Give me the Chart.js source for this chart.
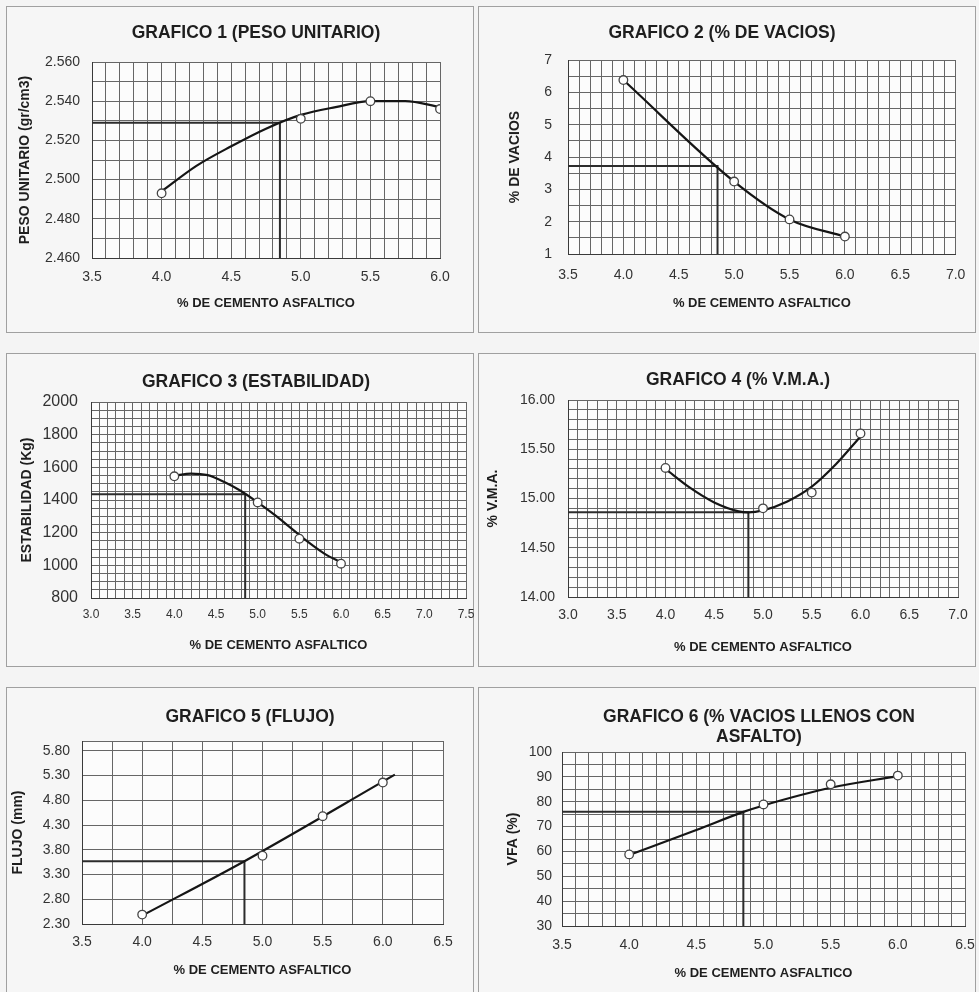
<!DOCTYPE html>
<html>
<head>
<meta charset="utf-8">
<script src="https://cdn.jsdelivr.net/npm/chart.js@4.4.1/dist/chart.umd.min.js"></script>
<style>
html,body{margin:0;padding:0;background:#f4f4f4;}
body{width:979px;height:992px;position:relative;overflow:hidden;}
.panel{position:absolute;border:1px solid #a0a0a0;box-sizing:border-box;background:#f6f6f6;}
canvas{position:absolute;}
</style>
</head>
<body>
<div class="panel" style="left:6px;top:6px;width:468px;height:327px"></div>
<div class="panel" style="left:478px;top:6px;width:498px;height:327px"></div>
<div class="panel" style="left:6px;top:353px;width:468px;height:314px"></div>
<div class="panel" style="left:478px;top:353px;width:498px;height:314px"></div>
<div class="panel" style="left:6px;top:687px;width:468px;height:320px"></div>
<div class="panel" style="left:478px;top:687px;width:498px;height:320px"></div>
<script>
// ---------------- DATA ----------------
const X_CEMENTO = [4.0, 5.0, 5.5, 6.0];
const PESO_UNITARIO = [2.493, 2.531, 2.540, 2.536];
const VACIOS = [6.38, 3.24, 2.07, 1.54];
const ESTABILIDAD = [1545, 1385, 1163, 1010];
const VMA = [15.31, 14.90, 15.06, 15.66];
const FLUJO = [2.49, 3.68, 4.48, 5.16];
const VFA = [58.8, 78.9, 87.0, 90.5];

const CEMENTO_OPTIMO = 4.85;
const OPT_PESO = 2.529;
const OPT_VACIOS = 3.72;
const OPT_ESTAB = 1435;
const OPT_VMA = 14.86;
const OPT_FLUJO = 3.57;
const OPT_VFA = 76;

// trend curves
const CURVA1_X = [4.0, 4.25, 4.5, 4.75, 5.0, 5.25, 5.5, 5.75, 6.0];
const CURVA1_Y = [2.494, 2.507, 2.517, 2.526, 2.533, 2.537, 2.540, 2.540, 2.537];
const CURVA3_X = [4.0, 4.2, 4.4, 4.6, 4.8, 5.0, 5.2, 5.4, 5.6, 5.8, 6.0];
const CURVA3_Y = [1549, 1562, 1552, 1510, 1455, 1385, 1310, 1228, 1145, 1072, 1018];
const CURVA4_X = [4.0, 4.25, 4.5, 4.75, 4.85, 5.0, 5.25, 5.5, 5.75, 6.0];
const CURVA4_Y = [15.30, 15.11, 14.96, 14.87, 14.86, 14.88, 14.97, 15.12, 15.35, 15.63];
const CURVA5_X = [4.0, 4.85, 6.1];
const CURVA5_Y = [2.47, 3.57, 5.32];
const CURVA6_X = [4.0, 4.5, 4.85, 5.0, 5.5, 6.0];
const CURVA6_Y = [58.6, 68.6, 75.9, 78.5, 85.6, 90.3];

// tick labels
const X_TICKS_1 = [3.5, 4.0, 4.5, 5.0, 5.5, 6.0];
const Y_TICKS_1 = [2.46, 2.48, 2.50, 2.52, 2.54, 2.56];
const X_TICKS_2 = [3.5, 4.0, 4.5, 5.0, 5.5, 6.0, 6.5, 7.0];
const Y_TICKS_2 = [1, 2, 3, 4, 5, 6, 7];
const X_TICKS_3 = [3.0, 3.5, 4.0, 4.5, 5.0, 5.5, 6.0, 6.5, 7.0, 7.5];
const Y_TICKS_3 = [800, 1000, 1200, 1400, 1600, 1800, 2000];
const X_TICKS_4 = [3.0, 3.5, 4.0, 4.5, 5.0, 5.5, 6.0, 6.5, 7.0];
const Y_TICKS_4 = [14.00, 14.50, 15.00, 15.50, 16.00];
const X_TICKS_5 = [3.5, 4.0, 4.5, 5.0, 5.5, 6.0, 6.5];
const Y_TICKS_5 = [2.30, 2.80, 3.30, 3.80, 4.30, 4.80, 5.30, 5.80];
const X_TICKS_6 = [3.5, 4.0, 4.5, 5.0, 5.5, 6.0, 6.5];
const Y_TICKS_6 = [30, 40, 50, 60, 70, 80, 90, 100];

const X_TITLE = '% DE CEMENTO ASFALTICO';

// ---------------- HELPERS ----------------
const FONT = '"Liberation Sans", Arial, Helvetica, sans-serif';
Chart.defaults.font.family = FONT;
Chart.defaults.color = '#2a2a2a';

function pairs(xs, ys) { return xs.map((x, i) => ({x: x, y: ys[i]})); }

function gridTicks(min, max, step) {
  const out = [];
  const n = Math.floor((max - min) / step + 1e-6);
  for (let i = 0; i <= n; i++) out.push(+(min + i * step).toFixed(6));
  if (out[out.length - 1] < max - 1e-6) out.push(max);
  return out;
}

const plotBg = {
  id: 'plotBg',
  beforeDraw(chart) {
    const {ctx, chartArea: a} = chart;
    ctx.save();
    ctx.fillStyle = '#fcfcfc';
    ctx.fillRect(a.left, a.top, a.width, a.height);
    ctx.restore();
  }
};

const GRID = '#666666';

function makeChart(s) {
  const cl = s.panel[0], ct = s.panel[1], ch = s.panel[2];
  const [pl, pt, pr, pb] = s.plot;
  const padR = 12;
  // spacer on the right so that the (full width) title is centred where wanted
  const spacerW = Math.max(0, 2 * s.titlePos[0] - cl - pr);
  const cw = pr + spacerW + padR - cl;

  const cv = document.createElement('canvas');
  cv.width = cw; cv.height = ch;
  cv.style.left = cl + 'px'; cv.style.top = ct + 'px';
  cv.style.width = cw + 'px'; cv.style.height = ch + 'px';
  document.body.appendChild(cv);

  const tSize = s.titleSize || 17.5;
  const tLH = s.titleLH || tSize * 1.2;
  const nLines = Array.isArray(s.title) ? s.title.length : 1;
  const tPadTop = s.titlePos[1] - ct - tLH / 2;
  const tPadBottom = pt - ct - tPadTop - tLH * nLines;
  const yAxisW = pl - cl;
  const xAxisH = ct + ch - pb;
  const xTickSize = s.xTickSize || 14;
  const yTickSize = s.yTickSize || 14;
  const axTitleSize = 13;
  const yTitleSize = 14;

  const ref = [
    {x: s.x.min, y: s.opt},
    {x: CEMENTO_OPTIMO, y: s.opt},
    {x: CEMENTO_OPTIMO, y: s.y.min}
  ];

  const datasets = [
    {
      label: 'Ensayos', data: s.points, showLine: !!s.lineThroughPoints,
      cubicInterpolationMode: 'monotone', borderColor: '#151515', borderWidth: 2.2,
      pointRadius: 4.3, pointBackgroundColor: '#ffffff', pointBorderColor: '#444',
      pointBorderWidth: 1.3
    }
  ];
  if (s.curve) {
    datasets.push({
      label: 'Curva', data: s.curve, showLine: true, cubicInterpolationMode: 'monotone',
      tension: 0, pointRadius: 0, borderColor: '#151515', borderWidth: 2.2
    });
  }
  datasets.push({
    label: 'Optimo', data: ref, showLine: true, tension: 0, pointRadius: 0,
    borderColor: '#2c2c2c', borderWidth: 2
  });

  const labelCb = (labels, dec) => (v) =>
    labels.some(l => Math.abs(l - v) < 1e-6) ? Number(v).toFixed(dec) : '';

  new Chart(cv, {
    type: 'scatter',
    data: {datasets: datasets},
    plugins: [plotBg],
    options: {
      responsive: false,
      animation: false,
      events: [],
      layout: {padding: {left: 0, right: padR, top: 0, bottom: 0}},
      plugins: {
        legend: {display: false},
        tooltip: {enabled: false},
        title: {
          display: true, text: s.title, color: '#1e1e1e',
          font: {size: tSize, weight: 'bold', lineHeight: tLH / tSize},
          padding: {top: tPadTop, bottom: tPadBottom}
        }
      },
      scales: {
        x: {
          type: 'linear', min: s.x.min, max: s.x.max,
          afterBuildTicks: (sc) => { sc.ticks = gridTicks(s.x.min, s.x.max, s.x.step).map(v => ({value: v})); },
          afterFit: (sc) => { sc.height = xAxisH; },
          ticks: {
            autoSkip: false, maxRotation: 0, minRotation: 0,
            padding: s.xTickY - pb - xTickSize * 0.6,
            font: {size: xTickSize}, color: '#333',
            callback: labelCb(s.x.labels, s.x.dec)
          },
          grid: {color: GRID, lineWidth: 1, drawTicks: false},
          border: {display: true, color: '#3a3a3a', width: 1},
          title: {
            display: true, text: X_TITLE, color: '#1e1e1e',
            font: {size: axTitleSize, weight: 'bold', lineHeight: 1.2},
            padding: {top: 0, bottom: ct + ch - s.xTitleY - axTitleSize * 0.6}
          }
        },
        y: {
          type: 'linear', min: s.y.min, max: s.y.max,
          afterBuildTicks: (sc) => { sc.ticks = gridTicks(s.y.min, s.y.max, s.y.step).map(v => ({value: v})); },
          afterFit: (sc) => { sc.width = yAxisW; },
          ticks: {
            autoSkip: false, padding: pl - s.yTickRight,
            font: {size: yTickSize}, color: '#333',
            callback: labelCb(s.y.labels, s.y.dec)
          },
          grid: {color: GRID, lineWidth: 1, drawTicks: false},
          border: {display: true, color: '#3a3a3a', width: 1},
          title: {
            display: true, text: s.yTitle, color: '#1e1e1e',
            font: {size: yTitleSize, weight: 'bold', lineHeight: 1.2},
            padding: {top: s.yTitleX - cl - yTitleSize * 0.6, bottom: 0}
          }
        },
        spacer: {
          type: 'linear', position: 'right', display: true,
          grid: {display: false, drawTicks: false},
          border: {display: false},
          ticks: {display: false},
          title: {display: false},
          afterFit: (sc) => { sc.width = spacerW; }
        }
      }
    }
  });
}

// ---------------- CHARTS ----------------
makeChart({
  panel: [6, 6, 327], plot: [92, 62, 440, 258], titlePos: [256, 33],
  title: 'GRAFICO 1 (PESO UNITARIO)', yTitle: 'PESO UNITARIO (gr/cm3)',
  yTitleX: 25, yTickRight: 80, xTickY: 277, xTitleY: 303,
  x: {min: 3.5, max: 6.0, step: 0.1, labels: X_TICKS_1, dec: 1},
  y: {min: 2.46, max: 2.56, step: 0.01, labels: Y_TICKS_1, dec: 3},
  points: pairs(X_CEMENTO, PESO_UNITARIO), curve: pairs(CURVA1_X, CURVA1_Y), opt: OPT_PESO
});

makeChart({
  panel: [478, 6, 327], plot: [568, 60, 962, 254], titlePos: [722, 33],
  title: 'GRAFICO 2 (% DE VACIOS)', yTitle: '% DE VACIOS',
  yTitleX: 515, yTickRight: 552, xTickY: 275, xTitleY: 303,
  x: {min: 3.5, max: 7.0, step: 0.1, labels: X_TICKS_2, dec: 1},
  y: {min: 1, max: 7, step: 0.5, labels: Y_TICKS_2, dec: 0},
  points: pairs(X_CEMENTO, VACIOS), lineThroughPoints: true, opt: OPT_VACIOS
});

makeChart({
  panel: [6, 353, 314], plot: [91, 402, 466, 598], titlePos: [256, 382],
  title: 'GRAFICO 3 (ESTABILIDAD)', yTitle: 'ESTABILIDAD (Kg)',
  yTitleX: 27, yTickRight: 78, xTickY: 615, xTitleY: 645, yTickSize: 16, xTickSize: 12,
  x: {min: 3.0, max: 7.5, step: 0.1, labels: X_TICKS_3, dec: 1},
  y: {min: 800, max: 2000, step: 50, labels: Y_TICKS_3, dec: 0},
  points: pairs(X_CEMENTO, ESTABILIDAD), curve: pairs(CURVA3_X, CURVA3_Y), opt: OPT_ESTAB
});

makeChart({
  panel: [478, 353, 314], plot: [568, 400, 958, 597], titlePos: [738, 380],
  title: 'GRAFICO 4 (% V.M.A.)', yTitle: '% V.M.A.',
  yTitleX: 493, yTickRight: 555, xTickY: 615, xTitleY: 647,
  x: {min: 3.0, max: 7.0, step: 0.1, labels: X_TICKS_4, dec: 1},
  y: {min: 14, max: 16, step: 0.1, labels: Y_TICKS_4, dec: 2},
  points: pairs(X_CEMENTO, VMA), curve: pairs(CURVA4_X, CURVA4_Y), opt: OPT_VMA
});

makeChart({
  panel: [6, 687, 305], plot: [82, 741, 443, 924], titlePos: [250, 717],
  title: 'GRAFICO 5 (FLUJO)', yTitle: 'FLUJO (mm)',
  yTitleX: 18, yTickRight: 70, xTickY: 942, xTitleY: 970,
  x: {min: 3.5, max: 6.5, step: 0.25, labels: X_TICKS_5, dec: 1},
  y: {min: 2.3, max: 6.0, step: 0.5, labels: Y_TICKS_5, dec: 2},
  points: pairs(X_CEMENTO, FLUJO), curve: pairs(CURVA5_X, CURVA5_Y), opt: OPT_FLUJO
});

makeChart({
  panel: [478, 687, 305], plot: [562, 752, 965, 926], titlePos: [759, 717], titleLH: 20,
  title: ['GRAFICO 6 (% VACIOS LLENOS CON', 'ASFALTO)'], yTitle: 'VFA (%)',
  yTitleX: 513, yTickRight: 552, xTickY: 945, xTitleY: 973,
  x: {min: 3.5, max: 6.5, step: 0.1, labels: X_TICKS_6, dec: 1},
  y: {min: 30, max: 100, step: 5, labels: Y_TICKS_6, dec: 0},
  points: pairs(X_CEMENTO, VFA), curve: pairs(CURVA6_X, CURVA6_Y), opt: OPT_VFA
});
</script>
</body>
</html>
